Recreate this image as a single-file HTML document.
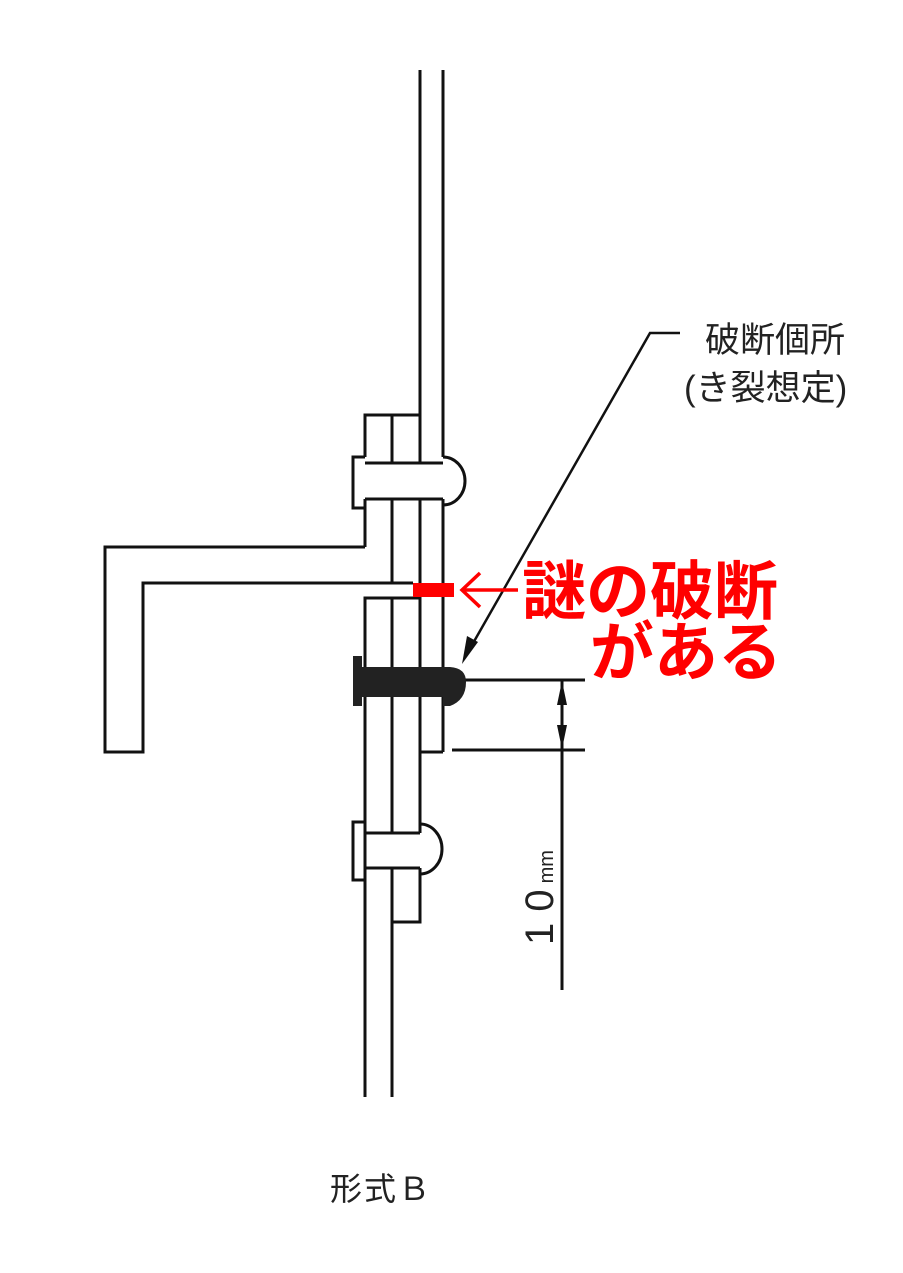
<!DOCTYPE html>
<html><head><meta charset="utf-8"><style>
html,body{margin:0;padding:0;background:#fff;}
svg{display:block;}
</style></head><body>
<svg width="903" height="1273" viewBox="0 0 903 1273" xmlns="http://www.w3.org/2000/svg">
<g fill="none" stroke="#111" stroke-width="3">
<line x1="420" y1="70" x2="420" y2="463"/>
<line x1="420" y1="499" x2="420" y2="667"/>
<line x1="420" y1="697" x2="420" y2="833"/>
<line x1="443" y1="70" x2="443" y2="457"/>
<polyline points="420,415 365,415 365,457"/>
<line x1="392" y1="415" x2="392" y2="463"/>
<line x1="365" y1="463" x2="443" y2="463"/>
<polyline points="365,457 353,457 353,508 365,508"/>
<path d="M443,457 A22,24 0 0 1 443,505"/>
<line x1="365" y1="499" x2="443" y2="499"/>
<line x1="443" y1="499" x2="443" y2="752"/>
<line x1="392" y1="499" x2="392" y2="583"/>
<line x1="365" y1="499" x2="365" y2="547"/>
<polyline points="365,547 105,547 105,752 143,752 143,583 413,583"/>
<polyline points="420,598 365,598 365,667"/>
<line x1="392" y1="598" x2="392" y2="667"/>
<line x1="365" y1="697" x2="365" y2="1097"/>
<line x1="392" y1="697" x2="392" y2="833"/>
<line x1="392" y1="868" x2="392" y2="1097"/>
<line x1="420" y1="752" x2="443" y2="752"/>
<polyline points="365,822 353,822 353,880 365,880"/>
<line x1="365" y1="833" x2="420" y2="833"/>
<line x1="365" y1="868" x2="420" y2="868"/>
<path d="M420,824 A22,25 0 0 1 420,874"/>
<polyline points="392,868 392,922 420,922 420,868"/>
<line x1="462" y1="680" x2="585" y2="680"/>
<line x1="452" y1="750" x2="585" y2="750"/>
<line x1="562" y1="680" x2="562" y2="990"/>
<polyline points="680,333 650,333 468,652" stroke-width="2.5"/>
</g>
<path d="M353,656 L362,656 L362,667 L450,667 Q466,668 466,682 Q466,700 450,706 L443,706 L443,697 L362,697 L362,706 L353,706 Z" fill="#222"/>
<polygon points="462,664 467,636 478,642" fill="#111"/>
<polygon points="562,681 557,705 567,705" fill="#111"/>
<polygon points="562,749 557,725 567,725" fill="#111"/>
<rect x="413" y="583" width="41" height="14" fill="#f00"/>
<g stroke="#f00" stroke-width="3.5" fill="none">
<line x1="462" y1="590" x2="518" y2="590"/>
<polyline points="480,573 462,590 480,607"/>
</g>
<g font-family="'Liberation Sans','Noto Sans CJK JP',sans-serif" fill="#222">
<text x="705" y="352" font-size="35">破断個所</text>
<text x="684" y="400" font-size="35">(き裂想定)</text>
<text x="330" y="1200" font-size="32" letter-spacing="2">形式Ｂ</text>
<text transform="translate(553,945) rotate(-90)" font-size="40">1 0<tspan font-size="20" dx="6">mm</tspan></text>
</g>
<g font-family="'Liberation Sans','Noto Sans CJK JP',sans-serif" fill="#f00" font-weight="bold">
<text x="522" y="614" font-size="64">謎の破断</text>
<text x="590" y="675" font-size="64">がある</text>
</g>
</svg>
</body></html>
